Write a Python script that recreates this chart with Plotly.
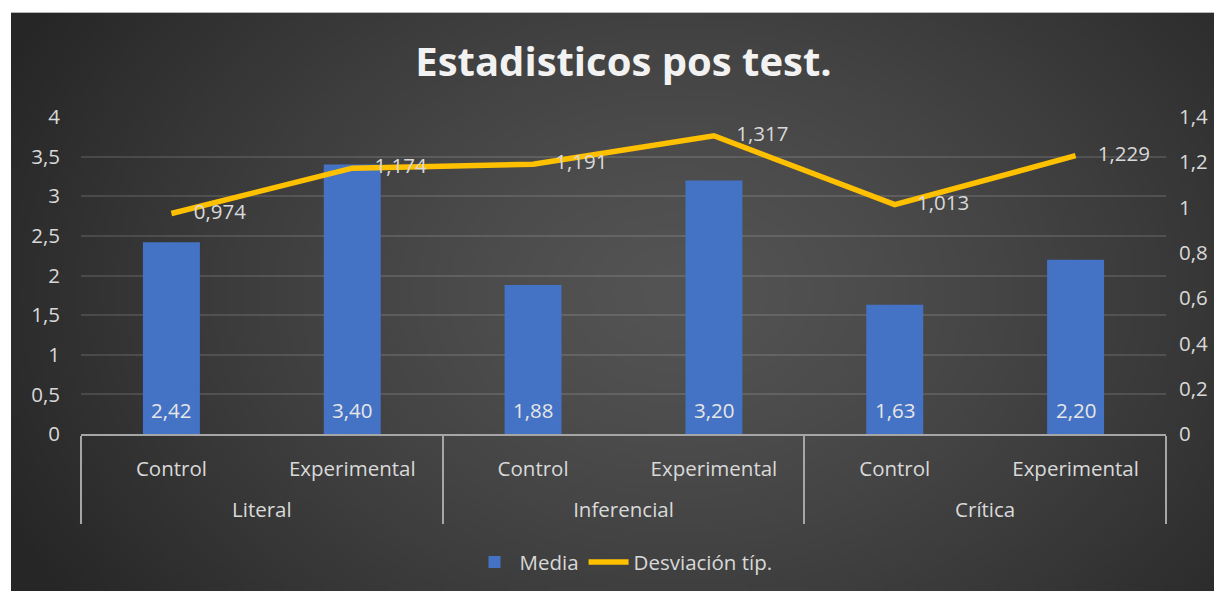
import base64, struct, zlib
import numpy as np
import plotly.graph_objects as go

# ---------------- data ----------------
groups = ["Literal", "Literal", "Inferencial", "Inferencial", "Crítica", "Crítica"]
subgroups = ["Control", "Experimental", "Control", "Experimental", "Control", "Experimental"]
media = [2.42, 3.40, 1.88, 3.20, 1.63, 2.20]
desviacion = [0.974, 1.174, 1.191, 1.317, 1.013, 1.229]
title_text = "Estadisticos pos test."

# ---------------- background gradient image (styling only) ----------------
def gradient_png(w=242, h=116):
    yy, xx = np.mgrid[0:h, 0:w]
    cx, cy = w * 0.55, h * 0.48
    r = np.sqrt(((xx - cx) / (w * 0.62)) ** 2 + ((yy - cy) / (h * 0.95)) ** 2)
    r = np.clip(r, 0, 1)
    c = 84 - (84 - 38) * r ** 1.3
    c = c.astype(np.uint8)
    raw = b"".join(b"\x00" + bytes(np.repeat(row, 3).tolist()) for row in c)
    def chunk(t, d):
        return struct.pack(">I", len(d)) + t + d + struct.pack(">I", zlib.crc32(t + d) & 0xFFFFFFFF)
    png = b"\x89PNG\r\n\x1a\n" + chunk(b"IHDR", struct.pack(">IIBBBBB", w, h, 8, 2, 0, 0, 0)) \
        + chunk(b"IDAT", zlib.compress(raw, 9)) + chunk(b"IEND", b"")
    return "data:image/png;base64," + base64.b64encode(png).decode()

OFF = 8                      # page body margin
SW, SH = 1222, 594           # screen size
W, H = SW - OFF, SH - OFF    # figure size
PL, PR, PT, PB = 81, 1166, 117, 436   # plot area in screen px
L, R, T, B = PL - OFF, SW - PR, PT - OFF, H - (PB - OFF)
pw, ph = PR - PL, PB - PT
def px(x): return (x - PL) / pw
def py(y): return (PB - y) / ph

FONT = "Open Sans"
txt = "#d9d9d9"
FS = 20.5

group_labels = ["<br>" + g for g in groups]

fig = go.Figure()
fig.add_trace(go.Bar(
    x=[group_labels, subgroups], y=media, name="Media",
    marker=dict(color="#4472c4", line=dict(width=0)),
    yaxis="y",
))
fig.add_trace(go.Scatter(
    x=[group_labels, subgroups], y=desviacion, name="Desviación típ.",
    mode="lines+markers+text",
    line=dict(color="#ffc000", width=5.5),
    marker=dict(size=34, color="rgba(0,0,0,0)"),
    texttemplate="%{y:.3f}", textposition="middle right",
    textfont=dict(color="#d9d9d9", size=FS, family=FONT),
    yaxis="y2",
))

annotations = [
    dict(x=i, y=0, xref="x", yref="y", text=f"{v:.2f}".replace(".", ","),
         showarrow=False, yanchor="bottom", yshift=8,
         font=dict(color="#e6e6e6", size=FS, family=FONT))
    for i, v in enumerate(media)
]

fig.update_layout(
    width=W, height=H,
    margin=dict(l=L, r=R, t=T, b=B, pad=0),
    paper_bgcolor="white", plot_bgcolor="rgba(0,0,0,0)",
    separators=",.",
    font=dict(family=FONT, color=txt, size=FS),
    title=dict(text="<b>" + title_text + "</b>", x=0.5, xanchor="center", xref="paper",
               y=1 - (62 - OFF) / H, yanchor="middle",
               font=dict(size=40, color="#f2f2f2", family=FONT)),
    bargap=0.685,
    showlegend=True,
    legend=dict(orientation="h", x=0.5, xanchor="center", y=py(565), yanchor="middle",
                font=dict(size=FS, color=txt), bgcolor="rgba(0,0,0,0)", traceorder="normal",
                itemwidth=40),
    xaxis=dict(type="multicategory", showgrid=False, showline=True, linecolor="#a6a6a6",
               linewidth=2, ticks="", showdividers=True, dividercolor="#a6a6a6",
               dividerwidth=2, ticklabelstandoff=15,
               tickfont=dict(size=FS, color=txt, family=FONT)),
    yaxis=dict(range=[0, 4], dtick=0.5, showgrid=True, gridcolor="rgba(255,255,255,0.12)",
               gridwidth=1.5, zeroline=False, showline=False, ticks="",
               tickfont=dict(size=FS, color=txt, family=FONT), ticklabelstandoff=20),
    yaxis2=dict(range=[0, 1.4], dtick=0.2, overlaying="y", side="right", showgrid=False,
                zeroline=False, showline=False, ticks="",
                tickfont=dict(size=FS, color=txt, family=FONT), ticklabelstandoff=12),
    annotations=annotations,
    images=[dict(source=gradient_png(), xref="paper", yref="paper",
                 x=px(11), y=py(12), sizex=px(SW) - px(11), sizey=py(12) - py(SH),
                 xanchor="left", yanchor="top", sizing="stretch", layer="below")],
)

fig.write_html("out.html")
